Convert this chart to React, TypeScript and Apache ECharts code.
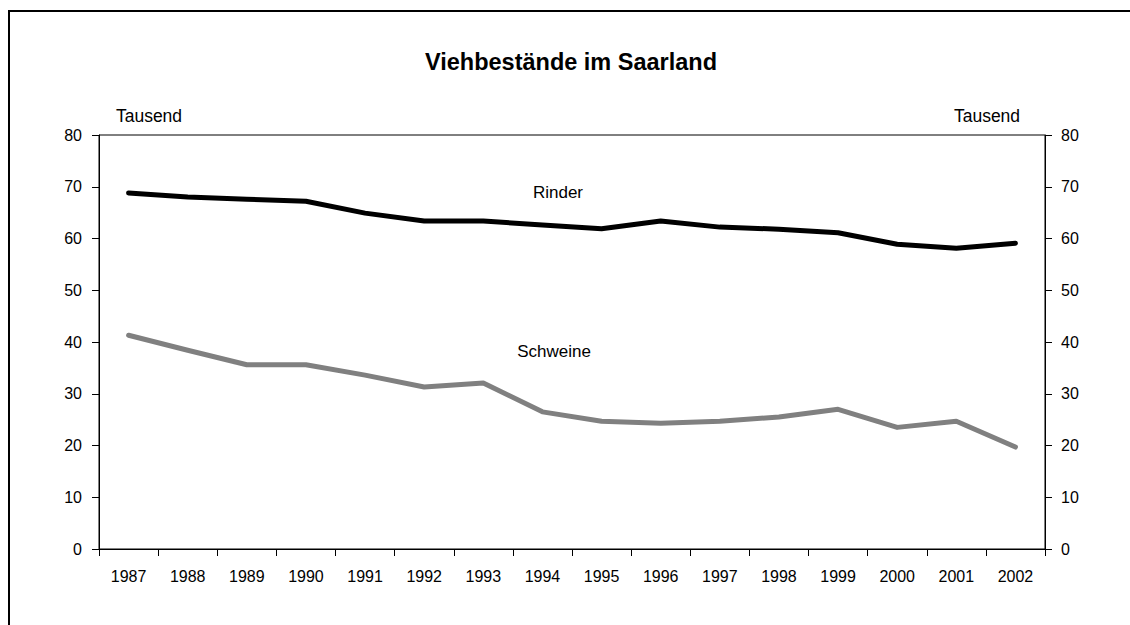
import React, { useEffect, useRef } from "react";
import * as echarts from "echarts";

const years = ["1987", "1988", "1989", "1990", "1991", "1992", "1993", "1994", "1995", "1996", "1997", "1998", "1999", "2000", "2001", "2002"];
const rinder = [68.8, 68.0, 67.6, 67.2, 64.9, 63.4, 63.4, 62.6, 61.9, 63.4, 62.2, 61.8, 61.1, 58.9, 58.1, 59.1];
const schweine = [41.3, 38.4, 35.6, 35.6, 33.6, 31.3, 32.1, 26.5, 24.7, 24.3, 24.7, 25.5, 27.0, 23.5, 24.7, 19.7];
const title = "Viehbestände im Saarland";
const unitLabel = "Tausend";
const seriesNames = ["Rinder", "Schweine"];

const FONT = "'Liberation Sans', Arial, Helvetica, sans-serif";

export default function App() {
  const ref = useRef<HTMLDivElement>(null);
  useEffect(() => {
    if (!ref.current) return;
    const chart = echarts.init(ref.current, null, { renderer: "svg" });
    const yAxisBase = {
      type: "value",
      min: 0,
      max: 80,
      interval: 10,
      splitLine: { show: false },
      axisLine: { show: true, lineStyle: { color: "#000", width: 1 } },
      axisTick: { show: true, length: 7, inside: false, lineStyle: { color: "#000", width: 1 } },
      axisLabel: { color: "#000", fontSize: 16, fontFamily: FONT, margin: 17 },
    };
    chart.setOption({
      animation: false,
      backgroundColor: "#fff",
      grid: {
        left: 99,
        right: 85,
        top: 135,
        bottom: 76,
        show: true,
        borderColor: "#000",
        borderWidth: 1,
        backgroundColor: "transparent",
      },
      xAxis: {
        type: "category",
        data: years,
        boundaryGap: true,
        axisLine: { show: true, lineStyle: { color: "#000", width: 1 } },
        axisTick: { show: true, length: 7, alignWithLabel: false, lineStyle: { color: "#000", width: 1 } },
        axisLabel: {
          color: "#000",
          fontSize: 16,
          fontFamily: "'Liberation Sans Narrow', 'Liberation Sans', Arial, sans-serif",
          margin: 19,
          interval: 0,
        },
      },
      yAxis: [
        { ...yAxisBase, position: "left" },
        { ...yAxisBase, position: "right", axisLabel: { ...yAxisBase.axisLabel, margin: 16 } },
      ],
      series: [
        {
          name: seriesNames[0],
          type: "line",
          data: rinder,
          yAxisIndex: 0,
          symbol: "none",
          lineStyle: { color: "#000", width: 5, cap: "round", join: "round" },
        },
        {
          name: seriesNames[1],
          type: "line",
          data: schweine,
          yAxisIndex: 0,
          symbol: "none",
          lineStyle: { color: "#808080", width: 5, cap: "round", join: "round" },
        },
      ],
      graphic: [
        {
          type: "rect",
          shape: { x: 9, y: 11, width: 1200, height: 700 },
          style: { fill: "none", stroke: "#000", lineWidth: 2 },
          silent: true,
        },
        {
          type: "text",
          x: 571,
          y: 62,
          style: {
            text: title,
            font: `bold 23.5px ${FONT}`,
            fill: "#000",
            align: "center",
            verticalAlign: "middle",
          },
        },
        {
          type: "text",
          x: 149,
          y: 116,
          style: { text: unitLabel, font: `17.5px ${FONT}`, fill: "#000", align: "center", verticalAlign: "middle" },
        },
        {
          type: "text",
          x: 987,
          y: 116,
          style: { text: unitLabel, font: `17.5px ${FONT}`, fill: "#000", align: "center", verticalAlign: "middle" },
        },
        {
          type: "text",
          x: 558,
          y: 192,
          style: { text: seriesNames[0], font: `17px ${FONT}`, fill: "#000", align: "center", verticalAlign: "middle" },
        },
        {
          type: "text",
          x: 554,
          y: 351,
          style: { text: seriesNames[1], font: `17px ${FONT}`, fill: "#000", align: "center", verticalAlign: "middle" },
        },
      ],
    });
    return () => chart.dispose();
  }, []);
  return (
    <div
      ref={ref}
      style={{ position: "absolute", left: 0, top: 0, width: 1130, height: 625 }}
    />
  );
}
